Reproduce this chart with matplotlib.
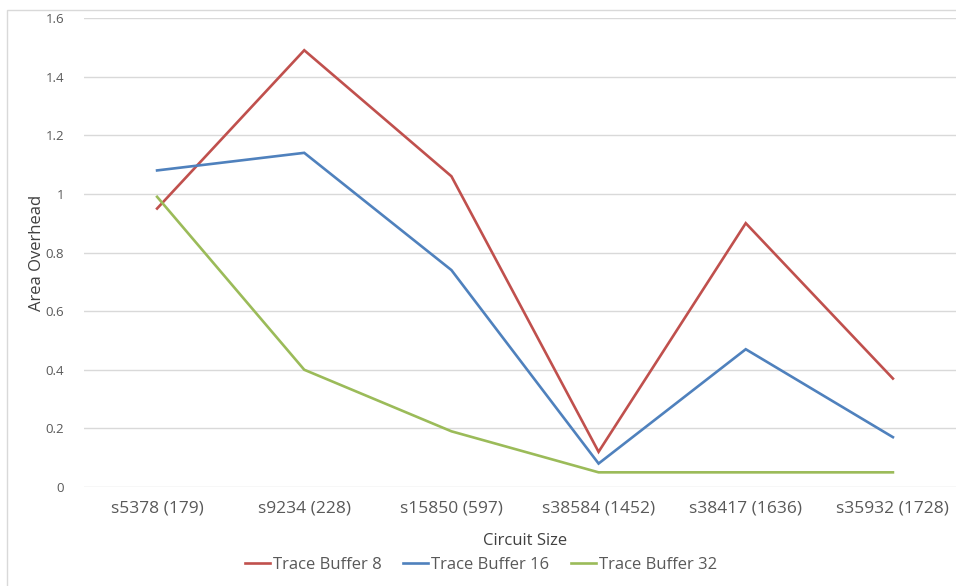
import matplotlib
matplotlib.use("Agg")
import matplotlib.pyplot as plt
from matplotlib.patches import Rectangle

plt.rcParams['font.family'] = ['Open Sans', 'DejaVu Sans']

categories = ["s5378 (179)", "s9234 (228)", "s15850 (597)",
              "s38584 (1452)", "s38417 (1636)", "s35932 (1728)"]
tb8 = [0.95, 1.49, 1.06, 0.12, 0.90, 0.37]
tb16 = [1.08, 1.14, 0.74, 0.08, 0.47, 0.17]
tb32 = [0.99, 0.40, 0.19, 0.05, 0.05, 0.05]
yticks = [0, 0.2, 0.4, 0.6, 0.8, 1, 1.2, 1.4, 1.6]
ytick_labels = ["0", "0.2", "0.4", "0.6", "0.8", "1", "1.2", "1.4", "1.6"]

W, H = 956, 586
fig = plt.figure(figsize=(W / 100, H / 100), dpi=100)
fig.patch.set_facecolor("white")

# chart frame
fig.add_artist(Rectangle((7 / W, -0.05), 1.1, 1 - 10 / H + 0.05,
                         transform=fig.transFigure, fill=False,
                         edgecolor="#d9d9d9", linewidth=1.0))

left, right = 83.5 / W, 966.5 / W
bottom, top = 1 - 487 / H, 1 - 18 / H
ax = fig.add_axes([left, bottom, right - left, top - bottom])

x = list(range(len(categories)))
ax.plot(x, tb8, color="#C0504D", lw=1.9, label="Trace Buffer 8", solid_joinstyle="miter")
ax.plot(x, tb16, color="#4F81BD", lw=1.9, label="Trace Buffer 16", solid_joinstyle="miter")
ax.plot(x, tb32, color="#9BBB59", lw=1.9, label="Trace Buffer 32", solid_joinstyle="miter")

ax.set_xlim(-0.5, len(categories) - 0.5)
ax.set_ylim(0, 1.6)
ax.set_yticks(yticks)
ax.set_yticklabels(ytick_labels)
ax.set_xticks(x)
ax.set_xticklabels(categories)
ax.yaxis.grid(True, color="#d9d9d9", linewidth=1.0)
ax.set_axisbelow(True)
for s in ax.spines.values():
    s.set_visible(False)
ax.tick_params(axis="both", length=0, colors="#595959")
ax.tick_params(axis="y", labelsize=9.5, pad=14)
ax.tick_params(axis="x", labelsize=12.5, pad=10)

ax.set_ylabel("Area Overhead", fontsize=12, color="#404040", labelpad=0)
fig.text(525 / W, 1 - 541 / H, "Circuit Size", ha="center", va="center",
         fontsize=12, color="#404040")

leg = fig.legend(loc="center", bbox_to_anchor=(481 / W, 1 - 565 / H), ncol=3,
                 frameon=False, fontsize=12, handlelength=1.5,
                 handletextpad=0.18, columnspacing=1.3)
for t in leg.get_texts():
    t.set_color("#595959")

fig.savefig("out.png", dpi=100)
